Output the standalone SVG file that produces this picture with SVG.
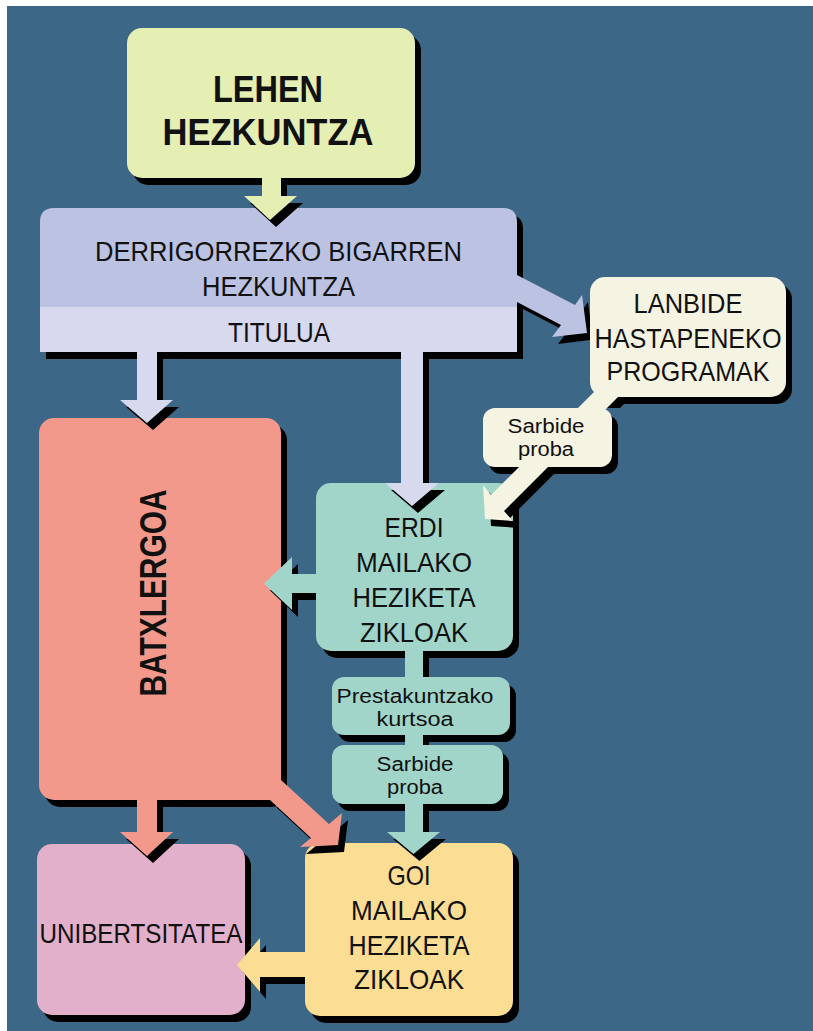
<svg xmlns="http://www.w3.org/2000/svg" width="813" height="1031" viewBox="0 0 813 1031">
<style>
.t{font-family:"Liberation Sans",Arial,sans-serif;font-size:28px;fill:#111;text-anchor:middle}
.b{font-weight:bold;font-size:37px}
.s{font-size:20px}
.sh{fill:#000}
</style>
<rect x="0" y="0" width="813" height="1031" fill="#fff"/>
<rect x="7" y="6" width="806" height="1025" fill="#3c6786"/>

<g id="lehen">
<rect class="sh" x="133" y="35" width="288" height="150" rx="15"/>
<rect x="127" y="28" width="288" height="150" rx="15" fill="#e5eeb3"/>
<text class="t b" x="268" y="102" textLength="110" lengthAdjust="spacingAndGlyphs">LEHEN</text>
<text class="t b" x="268" y="145" textLength="211" lengthAdjust="spacingAndGlyphs">HEZKUNTZA</text>
</g>

<g id="derrigorrezko">
<path class="sh" d="M46 359 V229 Q46 215 60 215 H509 Q523 215 523 229 V359 Z"/>
<path d="M40 307 V222 Q40 208 54 208 H503 Q517 208 517 222 V307 Z" fill="#bcc2e2"/>
<rect x="40" y="307" width="477" height="45" fill="#d7d9ef"/>
<text class="t" x="278.5" y="261" textLength="367" lengthAdjust="spacingAndGlyphs">DERRIGORREZKO BIGARREN</text>
<text class="t" x="278.5" y="296" textLength="153" lengthAdjust="spacingAndGlyphs">HEZKUNTZA</text>
<text class="t" x="279" y="342" textLength="102" lengthAdjust="spacingAndGlyphs">TITULUA</text>
</g>

<g id="lanbide">
<rect class="sh" x="596" y="284" width="196" height="120" rx="15"/>
<rect x="590" y="277" width="196" height="120" rx="15" fill="#f5f3e1"/>
<text class="t" x="688" y="313" textLength="109" lengthAdjust="spacingAndGlyphs">LANBIDE</text>
<text class="t" x="688" y="348" textLength="187" lengthAdjust="spacingAndGlyphs">HASTAPENEKO</text>
<text class="t" x="688" y="381" textLength="163" lengthAdjust="spacingAndGlyphs">PROGRAMAK</text>
</g>

<g id="sarbide1">
<rect class="sh" x="489" y="415" width="129" height="59" rx="12"/>
<rect x="483" y="408" width="129" height="59" rx="12" fill="#f5f3e1"/>
<text class="t s" x="546" y="433" textLength="77" lengthAdjust="spacingAndGlyphs">Sarbide</text>
<text class="t s" x="546" y="456" textLength="56" lengthAdjust="spacingAndGlyphs">proba</text>
</g>

<g id="batxlergoa">
<rect class="sh" x="45" y="425" width="242" height="382" rx="15"/>
<rect x="39" y="418" width="242" height="382" rx="15" fill="#f2998c"/>
<text class="t b" x="0" y="0" transform="translate(166 593) rotate(-90)" textLength="207" lengthAdjust="spacingAndGlyphs">BATXLERGOA</text>
</g>

<g id="erdi">
<rect class="sh" x="322" y="490" width="197" height="168" rx="15"/>
<rect x="316" y="483" width="197" height="168" rx="15" fill="#a1d5ca"/>
<text class="t" x="414" y="537" textLength="59" lengthAdjust="spacingAndGlyphs">ERDI</text>
<text class="t" x="414" y="572" textLength="116" lengthAdjust="spacingAndGlyphs">MAILAKO</text>
<text class="t" x="414" y="607" textLength="123" lengthAdjust="spacingAndGlyphs">HEZIKETA</text>
<text class="t" x="414" y="642" textLength="108" lengthAdjust="spacingAndGlyphs">ZIKLOAK</text>
</g>

<g id="prestakuntzako">
<rect class="sh" x="338" y="684" width="178" height="58" rx="12"/>
<rect x="332" y="677" width="178" height="58" rx="12" fill="#a1d5ca"/>
<text class="t s" x="415" y="703" textLength="157" lengthAdjust="spacingAndGlyphs">Prestakuntzako</text>
<text class="t s" x="415" y="726" textLength="77" lengthAdjust="spacingAndGlyphs">kurtsoa</text>
</g>

<g id="sarbide2">
<rect class="sh" x="338" y="752" width="171" height="59" rx="12"/>
<rect x="332" y="745" width="171" height="59" rx="12" fill="#a1d5ca"/>
<text class="t s" x="415" y="771" textLength="77" lengthAdjust="spacingAndGlyphs">Sarbide</text>
<text class="t s" x="415" y="794" textLength="56" lengthAdjust="spacingAndGlyphs">proba</text>
</g>

<g id="unibertsitatea">
<rect class="sh" x="43" y="851" width="208" height="171" rx="15"/>
<rect x="37" y="844" width="208" height="171" rx="15" fill="#e2b0ca"/>
<text class="t" x="141" y="943" textLength="203" lengthAdjust="spacingAndGlyphs">UNIBERTSITATEA</text>
</g>

<g id="goi">
<rect class="sh" x="311" y="850" width="208" height="173" rx="15"/>
<rect x="305" y="843" width="208" height="173" rx="15" fill="#fbdd93"/>
<text class="t" x="409" y="885" textLength="43" lengthAdjust="spacingAndGlyphs">GOI</text>
<text class="t" x="409" y="920" textLength="116" lengthAdjust="spacingAndGlyphs">MAILAKO</text>
<text class="t" x="409" y="955" textLength="121" lengthAdjust="spacingAndGlyphs">HEZIKETA</text>
<text class="t" x="409" y="989" textLength="110" lengthAdjust="spacingAndGlyphs">ZIKLOAK</text>
</g>

<g id="connectors">
<g class="sh">
<polygon points="268,178 287,178 287,203 303,203 276,227 250,203 268,203"/>
<polygon points="523,282 581,312 588,302 590,317 590,340 558,344 567,332 523,309"/>
<polygon points="602,397 631,397 620,408 591,408"/>
<polygon points="532,467 561,467 510,518 519,528 491,526 489,492 497,502"/>
<polygon points="143,352 163,352 163,407 179,407 153,430 126,407 143,407"/>
<polygon points="407,352 429,352 429,490 445,490 418,513 391,490 407,490"/>
<polygon points="316,581 298,581 298,564 270,590.5 298,617 298,600 316,600"/>
<rect x="411" y="651" width="18" height="26"/>
<rect x="411" y="735" width="18" height="10"/>
<polygon points="411,804 429,804 429,839 446,839 419.5,861 393,839 411,839"/>
<polygon points="143,800 163,800 163,839 179,839 153,863 126,839 143,839"/>
<polygon points="287,787 335,831 348,820 344,852 306,854 317,845 276,807 287,807"/>
<polygon points="305,959 266,959 266,945 243,972 266,999 266,984 305,984"/>
</g>
<polygon fill="#e5eeb3" points="262,170 281,170 281,196 297,196 270,220 244,196 262,196"/>
<polygon fill="#bcc2e2" points="510,275 517,275 575,305 582,295 587,333 552,337 561,325 517,302 510,302"/>
<polygon fill="#f5f3e1" points="606,380 635,380 603,412 574,412"/>
<polygon fill="#f5f3e1" points="521,465 550,465 504,511 513,521 485,519 483,485 491,495"/>
<polygon fill="#d7d9ef" points="137,345 157,345 157,400 173,400 147,423 120,400 137,400"/>
<polygon fill="#d7d9ef" points="401,345 423,345 423,483 439,483 412,506 385,483 401,483"/>
<polygon fill="#a1d5ca" points="322,574 292,574 292,557 264,583.5 292,610 292,593 322,593"/>
<rect fill="#a1d5ca" x="405" y="649" width="18" height="30"/>
<rect fill="#a1d5ca" x="405" y="733" width="18" height="14"/>
<polygon fill="#a1d5ca" points="405,802 423,802 423,832 440,832 413.5,854 387,832 405,832"/>
<polygon fill="#f2998c" points="137,790 157,790 157,832 173,832 147,856 120,832 137,832"/>
<polygon fill="#f2998c" points="262,780 281,780 329,824 342,813 338,845 300,847 311,838 270,800 262,800"/>
<polygon fill="#fbdd93" points="311,952 260,952 260,938 237,965 260,992 260,977 311,977"/>
</g>
</svg>
